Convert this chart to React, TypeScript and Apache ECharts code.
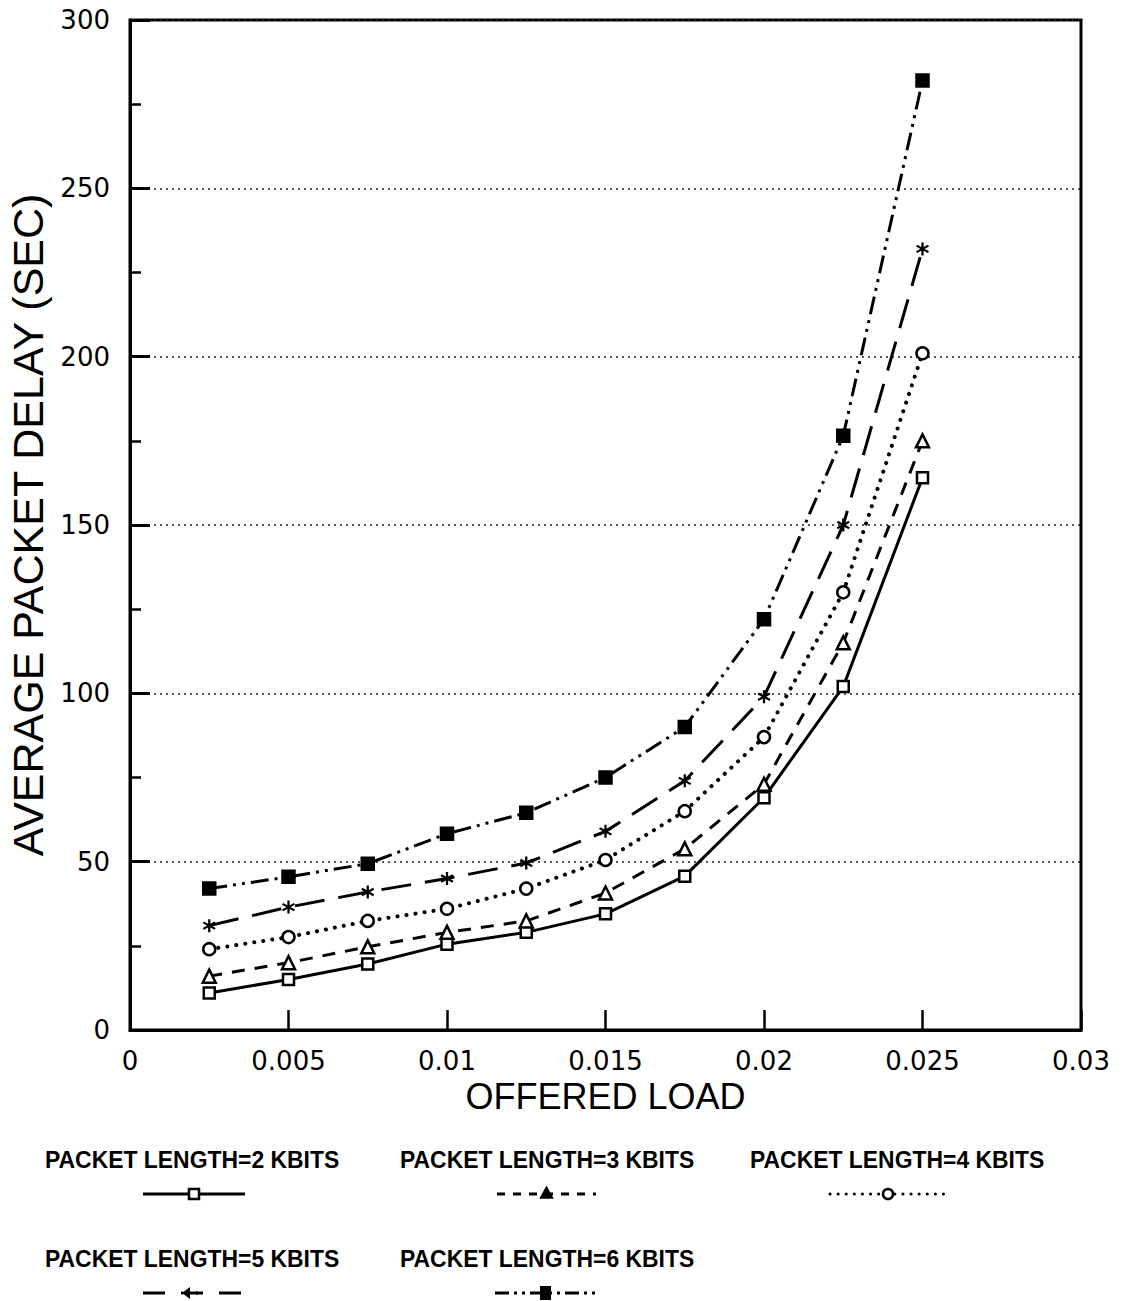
import React, { useEffect, useRef } from "react";
import * as echarts from "echarts";

const offeredLoad = [0.0025, 0.005, 0.0075, 0.01, 0.0125, 0.015, 0.0175, 0.02, 0.0225, 0.025];
const delay2k = [11, 15, 19.6, 25.5, 29, 34.5, 45.7, 69, 102, 164];
const delay3k = [16, 20, 24.7, 29, 32.4, 40.7, 53.8, 73, 115, 175];
const delay4k = [24, 27.6, 32.4, 36, 42, 50.5, 65, 87, 130, 201];
const delay5k = [31, 36.5, 41, 45, 49.6, 59, 74, 99, 150, 232];
const delay6k = [42, 45.5, 49.4, 58.3, 64.5, 75, 90, 122, 176.5, 282];
const seriesNames = [
  "PACKET LENGTH=2 KBITS",
  "PACKET LENGTH=3 KBITS",
  "PACKET LENGTH=4 KBITS",
  "PACKET LENGTH=5 KBITS",
  "PACKET LENGTH=6 KBITS",
];
const xTitle = "OFFERED LOAD";
const yTitle = "AVERAGE PACKET DELAY (SEC)";

const STAR =
  "path://M-1,-6L1,-6L1,6L-1,6ZM4.696,-3.866L5.696,-2.134L-4.696,3.866L-5.696,2.134ZM5.696,2.134L4.696,3.866L-5.696,-2.134L-4.696,-3.866Z";

const styles = [
  { dash: "solid", cap: "butt", width: 3, symbol: "rect", size: 11, fill: "#fff", legendDash: null },
  { dash: [13, 10], cap: "butt", width: 3, symbol: "triangle", size: 13, fill: "#fff", legendDash: [8, 8] },
  { dash: [0.1, 9], cap: "round", width: 4, symbol: "circle", size: 12, fill: "#fff", legendDash: [0.1, 8] },
  { dash: [30, 14], cap: "butt", width: 3, symbol: STAR, size: 13, fill: "#000", legendDash: [22, 16] },
  { dash: [18, 6, 3, 6, 3, 6], cap: "butt", width: 3, symbol: "rect", size: 12, fill: "#000", legendDash: [14, 5, 3, 5, 3, 5] },
];

const allData = [delay2k, delay3k, delay4k, delay5k, delay6k];

function legendGraphics() {
  const cols = [45, 400, 750];
  const rows = [1160, 1259];
  const symRows = [1194, 1293];
  const symSpans = [
    [143, 245],
    [497, 596],
    [830, 946],
    [143, 245],
    [495, 597],
  ];
  const els: any[] = [];
  seriesNames.forEach((name, i) => {
    const r = Math.floor(i / 3);
    const c = i % 3;
    els.push({
      type: "text",
      x: cols[c],
      y: rows[r],
      scaleX: 0.955,
      style: {
        text: name,
        font: "bold 24px 'Liberation Sans', Arial, sans-serif",
        fill: "#000",
        textAlign: "left",
        textVerticalAlign: "middle",
      },
    });
    const [x1, x2] = symSpans[i];
    const y = symRows[r];
    const st = styles[i];
    els.push({
      type: "line",
      shape: { x1, y1: y, x2, y2: y },
      style: {
        stroke: "#000",
        lineWidth: 3,
        lineDash: st.legendDash || undefined,
        lineCap: st.cap,
      },
    });
    const cx = (x1 + x2) / 2;
    if (i === 0) {
      els.push({ type: "rect", shape: { x: cx - 5, y: y - 5, width: 10, height: 10 }, style: { fill: "#fff", stroke: "#000", lineWidth: 2.5 } });
    } else if (i === 1) {
      els.push({ type: "polygon", shape: { points: [[cx, y - 7], [cx + 6, y + 4], [cx - 6, y + 4]] }, style: { fill: "#000", stroke: "#000", lineWidth: 1.5 } });
    } else if (i === 2) {
      els.push({ type: "circle", shape: { cx, cy: y, r: 5 }, style: { fill: "#fff", stroke: "#000", lineWidth: 2.5 } });
    } else if (i === 3) {
      els.push({ type: "rect", shape: { x: cx - 11, y: y - 7, width: 13, height: 14 }, style: { fill: "#fff" } });
      els.push({ type: "polygon", shape: { points: [[cx - 12, y], [cx - 4, y - 6], [cx - 4, y + 6]] }, style: { fill: "#000" } });
      els.push({ type: "line", shape: { x1: cx - 6, y1: y, x2: cx + 4, y2: y }, style: { stroke: "#000", lineWidth: 3 } });
    } else {
      els.push({ type: "rect", shape: { x: cx - 6, y: y - 7, width: 11, height: 14 }, style: { fill: "#000" } });
    }
  });
  return els;
}

export default function App() {
  const ref = useRef<HTMLDivElement>(null);
  useEffect(() => {
    if (!ref.current) return;
    const chart = echarts.init(ref.current, null, { renderer: "svg" });
    const labelFont = { fontFamily: "'DejaVu Sans', sans-serif", fontSize: 26, color: "#000" };
    chart.setOption({
      animation: false,
      backgroundColor: "#fff",
      grid: {
        left: 130,
        top: 20,
        width: 951,
        height: 1010,
        show: true,
        borderColor: "#000",
        borderWidth: 3,
        containLabel: false,
        outerBoundsMode: "none",
      },
      xAxis: {
        type: "value",
        min: 0,
        max: 0.03,
        interval: 0.005,
        name: xTitle,
        nameLocation: "middle",
        nameGap: 47,
        nameTextStyle: { fontFamily: "'Liberation Sans', Arial, sans-serif", fontSize: 36, color: "#000" },
        axisLine: { show: true, lineStyle: { color: "#000", width: 3 } },
        axisTick: { show: true, inside: true, length: 20, lineStyle: { color: "#000", width: 2.5 } },
        axisLabel: { ...labelFont, margin: 18, formatter: (v: number) => String(+v.toFixed(4)) },
        splitLine: { show: false },
      },
      yAxis: {
        type: "value",
        min: 0,
        max: 300,
        interval: 50,
        name: yTitle,
        nameLocation: "middle",
        nameGap: 78,
        nameTextStyle: { fontFamily: "'Liberation Sans', Arial, sans-serif", fontSize: 43, color: "#000" },
        axisLine: { show: true, lineStyle: { color: "#000", width: 3 } },
        axisTick: { show: true, inside: true, length: 20, lineStyle: { color: "#000", width: 3 } },
        minorTick: { show: true, splitNumber: 2, length: 11, lineStyle: { color: "#000", width: 2.5 } },
        axisLabel: { ...labelFont, margin: 20 },
        splitLine: { show: true, lineStyle: { color: "#222", width: 1.5, type: [2, 4] } },
      },
      series: seriesNames.map((name, i) => ({
        name,
        type: "line",
        data: offeredLoad.map((x, j) => [x, allData[i][j]]),
        symbol: styles[i].symbol,
        symbolSize: styles[i].size,
        showAllSymbol: true,
        lineStyle: { color: "#000", width: styles[i].width, type: styles[i].dash as any, cap: styles[i].cap as any },
        itemStyle:
          i === 3
            ? { color: "#000", borderWidth: 0 }
            : { color: styles[i].fill, borderColor: "#000", borderWidth: 2.5 },
        z: 3,
      })),
      graphic: legendGraphics(),
    });
    return () => chart.dispose();
  }, []);
  return (
    <div
      ref={ref}
      style={{ position: "fixed", left: 0, top: 0, width: 1122, height: 1301, background: "#fff" }}
    />
  );
}
